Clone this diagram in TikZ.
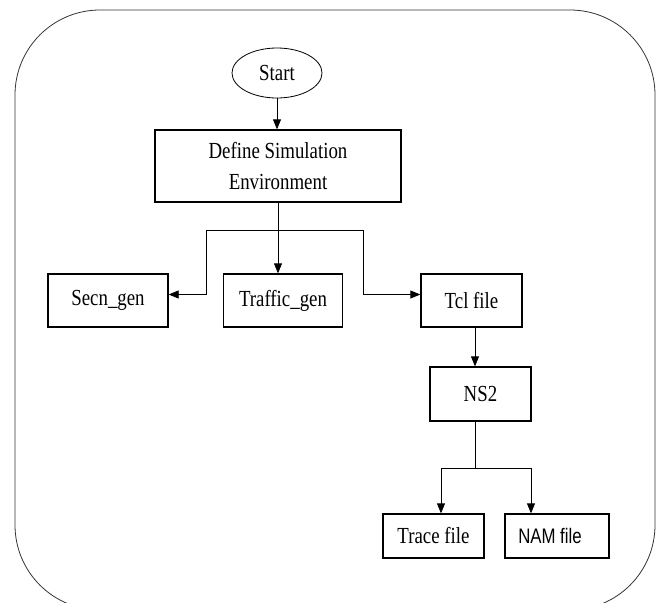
\documentclass[tikz,border=0pt]{standalone}
\usepackage{fontspec}
\setmainfont[FakeStretch=0.82]{Liberation Serif}
\newfontfamily\namfont[FakeStretch=0.8]{Liberation Sans}
\usetikzlibrary{arrows.meta,positioning,shapes.geometric}

\begin{document}
\begin{tikzpicture}[x=1pt, y=-1pt,
      blk/.style={draw, line width=1.3pt, inner sep=0pt, align=center,
                  font=\fontsize{23}{31}\selectfont},
      line/.style={line width=0.8pt},
      arr/.style={line width=0.8pt, -{Triangle[length=10pt,width=8pt]}}
    ]
      \path[use as bounding box] (0,0) rectangle (657,603);
      \draw[line width=0.8pt, black!80, rounded corners=85pt] (15,10) rectangle (655,610);

      \node[ellipse, draw, line width=0.8pt, minimum width=90pt, minimum height=50pt,
            inner sep=0pt, font=\fontsize{23}{27}\selectfont] (start) at (277,73) {Start};
      \node[blk, minimum width=246pt, minimum height=72pt] (define) at (278,166)
        {Define Simulation\\Environment};
      \node[blk, minimum width=120pt, minimum height=53pt] (secn) at (108,300.5) {Secn\_gen};
      \node[blk, minimum width=119pt, minimum height=53pt] (traffic) at (283,300.5) {Traffic\_gen};
      \node[blk, minimum width=101pt, minimum height=53pt] (tcl) at (471.5,300.5) {Tcl file};
      \node[blk, minimum width=101pt, minimum height=54pt] (ns2) at (480.5,394) {NS2};
      \node[blk, minimum width=101pt, minimum height=44pt] (trace) at (433.5,536) {Trace file};
      \node[blk, minimum width=104pt, minimum height=44pt, font=\namfont\fontsize{21}{24}\selectfont]
        (nam) at (557,536) {\hspace*{-14pt}NAM file};

      \coordinate (sl) at (206,230);
      \coordinate (sr) at (363,230);
      \coordinate (jn) at (475,468);
      \coordinate (tl) at (441,468);
      \coordinate (tr) at (531,468);

      \draw[arr] (start.south) -- (start.south |- define.north);
      \draw[arr] (define.south) -- (define.south |- traffic.north);
      \draw[line] (sl) -- (sr);
      \draw[arr] (sl) |- ([yshift=6pt]secn.east);
      \draw[arr] (sr) |- ([yshift=6pt]tcl.west);
      \draw[arr] ([xshift=3.5pt]tcl.south) -- ([xshift=3.5pt]tcl.south |- ns2.north);
      \draw[line] (jn |- ns2.south) -- (jn);
      \draw[line] (tl) -- (tr);
      \draw[arr] (tl) -- (tl |- trace.north);
      \draw[arr] (tr) -- (tr |- nam.north);
    \end{tikzpicture}
\end{document}
